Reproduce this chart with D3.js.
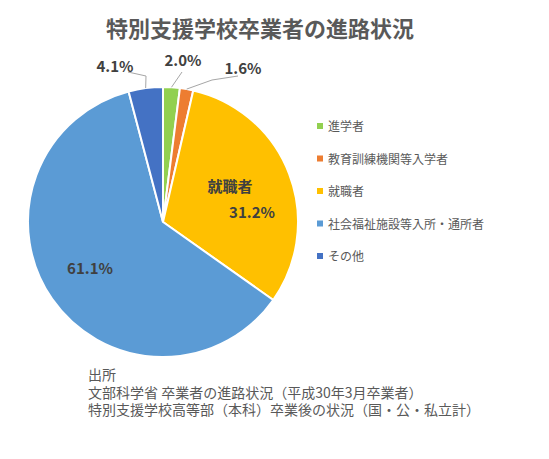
<!DOCTYPE html>
<html><head><meta charset="utf-8">
<script src="https://cdn.jsdelivr.net/npm/d3@7"></script>
<style>body{margin:0;background:#fff}text{font-family:"Noto Sans CJK JP",sans-serif}</style>
</head><body><svg id="c" width="549" height="459"></svg>
<script>
const categories = ['進学者', '教育訓練機関等入学者', '就職者', '社会福祉施設等入所・通所者', 'その他']
const values = [2.0, 1.6, 31.2, 61.1, 4.1]
const colors = ['#92D050', '#ED7D31', '#FFC000', '#5B9BD5', '#4472C4']
const sourceLines = ['出所', '文部科学省 卒業者の進路状況（平成30年3月卒業者）', '特別支援学校高等部（本科）卒業後の状況（国・公・私立計）']

const svg = d3.select('#c')
svg.append('text').attr('x', 260).attr('y', 37).attr('text-anchor', 'middle')
  .attr('font-size', 22).attr('font-weight', 'bold').attr('fill', '#595959')
  .text('特別支援学校卒業者の進路状況')

const cx = 163, cy = 222, r = 135
const arcs = d3.pie().sort(null)(values)
const arc = d3.arc().innerRadius(0).outerRadius(r)
const g = svg.append('g').attr('transform', `translate(${cx},${cy})`)
g.selectAll('path').data(arcs).join('path')
  .attr('d', arc).attr('fill', (d, i) => colors[i])
  .attr('stroke', '#fff').attr('stroke-width', 2)

// leader lines for small slices
const lab = d3.arc().innerRadius(r).outerRadius(r)
const lines = [[0, [182, 72]], [1, [212, 80]], [4, [146, 76]]]
lines.forEach(([i, p]) => {
  const c = lab.centroid(arcs[i])
  const ends = i === 1 ? [[cx + c[0], cy + c[1]], p, [238, 76]] : i === 4 ? [[cx + c[0], cy + c[1]], p, [128, 72]] : [[cx + c[0], cy + c[1]], p]
  svg.append('path').attr('d', d3.line()(ends)).attr('fill', 'none').attr('stroke', '#a6a6a6')
})

const pct = d => d.toFixed(1) + '%'
const lbl = (x, y, t) => svg.append('text').attr('x', x).attr('y', y).attr('text-anchor', 'middle')
  .attr('font-size', 15).attr('font-weight', 'bold').attr('fill', '#404040').text(t)
lbl(183, 66, pct(values[0]))
lbl(243, 74, pct(values[1]))
lbl(115, 72, pct(values[4]))
lbl(230, 192, categories[2])
lbl(252, 218, pct(values[2]))
lbl(90, 274, pct(values[3]))

const leg = svg.append('g')
categories.forEach((c, i) => {
  const y = 126 + i * 32.5
  leg.append('rect').attr('x', 317).attr('y', y - 3).attr('width', 6).attr('height', 6).attr('fill', colors[i])
  leg.append('text').attr('x', 328).attr('y', y + 5).attr('font-size', 12).attr('fill', '#595959').text(c)
})

sourceLines.forEach((s, i) => {
  svg.append('text').attr('x', 88).attr('y', 380 + i * 17.5).attr('font-size', 14).attr('fill', '#595959').text(s)
})
</script></body></html>
